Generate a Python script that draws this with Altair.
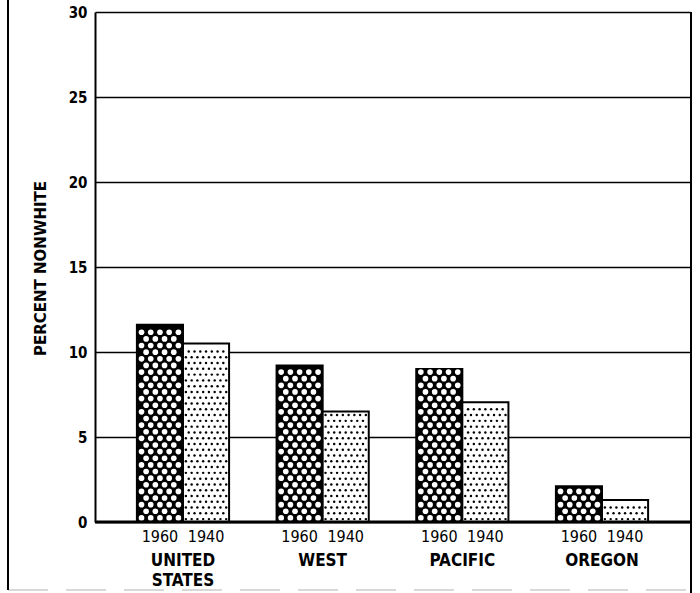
import altair as alt
import pandas as pd

# ---- data ----
groups = ["UNITED STATES", "WEST", "PACIFIC", "OREGON"]
years = ["1960", "1940"]
pct_1960 = [11.6, 9.2, 9.0, 2.1]
pct_1940 = [10.5, 6.5, 7.05, 1.3]
y_ticks = [0, 5, 10, 15, 20, 25, 30]

rows = []
for g, a, b in zip(groups, pct_1960, pct_1940):
    rows.append({"region": g, "year": "1960", "pct": a})
    rows.append({"region": g, "year": "1940", "pct": b})
bars_df = pd.DataFrame(rows)

# ---- fill textures (crosshatch holes for 1960, stipple dots for 1940) ----
tex = []
for r in rows:
    if r["year"] == "1960":
        base, step, start, kind = 0.0, 0.39, 0.24, "hole"
        cols_even = [0.1, 0.3, 0.5, 0.7, 0.9]
        cols_odd = [0.2, 0.4, 0.6, 0.8]
    else:
        base, step, start, kind = 0.5, 0.34, 0.17, "dot"
        cols_even = [(i + 0.5) / 8 for i in range(8)]
        cols_odd = [(i + 1) / 8 for i in range(7)]
    k = 0
    v = start
    while v < r["pct"] - step * 0.45:
        cols = cols_even if k % 2 == 0 else cols_odd
        for c in cols:
            tex.append({"region": r["region"], "u": base + c * 0.5, "v": v, "kind": kind})
        k += 1
        v = start + k * step
tex_df = pd.DataFrame(tex)

COND = "DejaVu Sans Condensed"
W, H = 595, 510

x_scale = alt.Scale(domain=groups, paddingInner=0.34, paddingOuter=0.30)
x_axis = alt.Axis(
    title=None, labelExpr="split(datum.label, ' ')", labelAngle=0, ticks=False,
    domain=False, labelPadding=30, labelFont=COND, labelFontSize=17,
    labelFontWeight="bold", labelColor="black", labelLineHeight=20,
)
y_axis = alt.Axis(
    values=y_ticks, title="PERCENT NONWHITE", grid=True, gridColor="black",
    gridWidth=1.5, gridOpacity=1, ticks=False, domainColor="black", domainWidth=2,
    labelPadding=8, labelFont=COND, labelFontSize=15, labelFontWeight="bold",
    labelColor="black", titleFont="DejaVu Sans", titleFontSize=15,
    titleFontWeight="bold", titleColor="black", titleX=-55, titleY=256,
    titleAlign="center", titleBaseline="middle", titleAngle=-90,
)

bars = alt.Chart(bars_df).mark_bar(stroke="black", strokeWidth=2).encode(
    x=alt.X("region:N", sort=groups, scale=x_scale, axis=x_axis),
    xOffset=alt.XOffset("year:N", sort=years, scale=alt.Scale(domain=years, paddingInner=0, paddingOuter=0)),
    y=alt.Y("pct:Q", scale=alt.Scale(domain=[0, 30]), axis=y_axis),
    fill=alt.Fill("year:N", scale=alt.Scale(domain=years, range=["black", "white"]), legend=None),
)

holes = alt.Chart(tex_df).transform_filter(alt.datum.kind == "hole").mark_point(
    filled=True, color="white", size=32, opacity=1, strokeWidth=0
).encode(
    x=alt.X("region:N", sort=groups),
    xOffset=alt.XOffset("u:Q", scale=alt.Scale(domain=[0, 1])),
    y=alt.Y("v:Q"),
)

dots = alt.Chart(tex_df).transform_filter(alt.datum.kind == "dot").mark_point(
    filled=True, color="black", size=6, opacity=1, strokeWidth=0
).encode(
    x=alt.X("region:N", sort=groups),
    xOffset=alt.XOffset("u:Q", scale=alt.Scale(domain=[0, 1])),
    y=alt.Y("v:Q"),
)

year_text = alt.Chart(bars_df).mark_text(
    baseline="top", dy=7, font=COND, fontSize=16, color="black"
).encode(
    x=alt.X("region:N", sort=groups),
    xOffset=alt.XOffset("year:N", sort=years, scale=alt.Scale(type="point", domain=years, padding=0.5)),
    y=alt.datum(0),
    text="year:N",
)

one = pd.DataFrame({"a": [0]})
bottom_edge = alt.Chart(one).mark_rule(color="#cccccc", strokeWidth=1.5, strokeDash=[40, 18]).encode(
    x=alt.value(-87), x2=alt.value(596), y=alt.value(578)
)
baseline = alt.Chart(one).mark_rule(color="black", strokeWidth=3).encode(y=alt.datum(0))
right_border = alt.Chart(one).mark_rule(color="black", strokeWidth=2).encode(
    x=alt.value(596), y=alt.value(0), y2=alt.value(581)
)
left_border = alt.Chart(one).mark_rule(color="black", strokeWidth=2).encode(
    x=alt.value(-87), y=alt.value(-12), y2=alt.value(578)
)

chart = (
    alt.layer(bottom_edge, bars, holes, dots, year_text, baseline, right_border, left_border)
    .resolve_scale(xOffset="independent")
    .properties(
        width=W, height=H,
        autosize=alt.AutoSizeParams(type="none"),
        padding={"left": 95, "top": 12, "right": 9, "bottom": 71},
        background="white",
    )
    .configure_view(stroke=None)
)

chart.save("out.html", embed_options={"renderer": "svg", "actions": False})
